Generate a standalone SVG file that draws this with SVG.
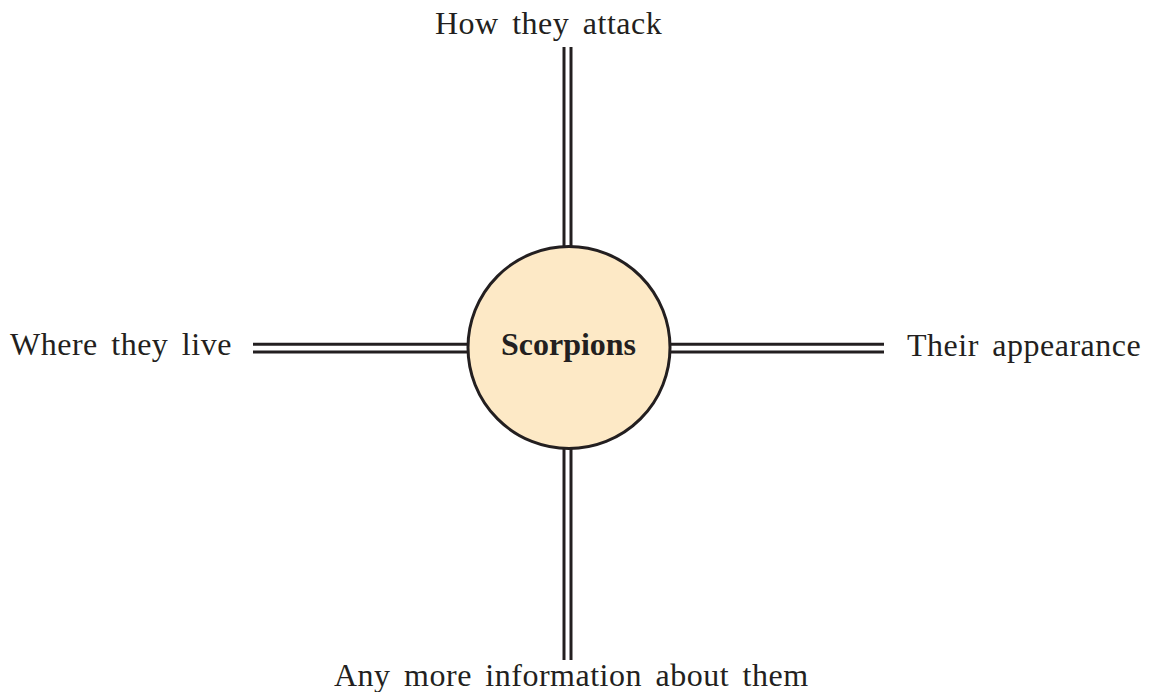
<svg xmlns="http://www.w3.org/2000/svg" width="1149" height="692" viewBox="0 0 1149 692">
<style>
.lbl{font-family:"Liberation Serif","Times New Roman",serif;font-size:32px;fill:#231f20;letter-spacing:0.5px;word-spacing:5px}
.ttl{font-family:"Liberation Serif","Times New Roman",serif;font-size:32px;font-weight:bold;fill:#231f20}
.ln{stroke:#231f20;stroke-width:3;fill:none}
</style>
<rect width="1149" height="692" fill="#ffffff"/>
<g id="connectors">
<line class="ln" x1="564" y1="47" x2="564" y2="250"/>
<line class="ln" x1="571" y1="47" x2="571" y2="250"/>
<line class="ln" x1="564" y1="445" x2="564" y2="660"/>
<line class="ln" x1="571" y1="445" x2="571" y2="660"/>
<line class="ln" x1="253" y1="344.3" x2="468" y2="344.3"/>
<line class="ln" x1="253" y1="352" x2="468" y2="352"/>
<line class="ln" x1="670" y1="344.3" x2="884" y2="344.3"/>
<line class="ln" x1="670" y1="352" x2="884" y2="352"/>
</g>
<g id="center">
<circle cx="569" cy="347.5" r="101" fill="#fde9c6" stroke="#231f20" stroke-width="3"/>
<text class="ttl" x="568.5" y="355" text-anchor="middle">Scorpions</text>
</g>
<g id="top"><text class="lbl" x="435" y="34">How they attack</text></g>
<g id="left"><text class="lbl" x="10" y="355">Where they live</text></g>
<g id="right"><text class="lbl" x="907" y="356">Their appearance</text></g>
<g id="bottom"><text class="lbl" x="334" y="686">Any more information about them</text></g>
</svg>
